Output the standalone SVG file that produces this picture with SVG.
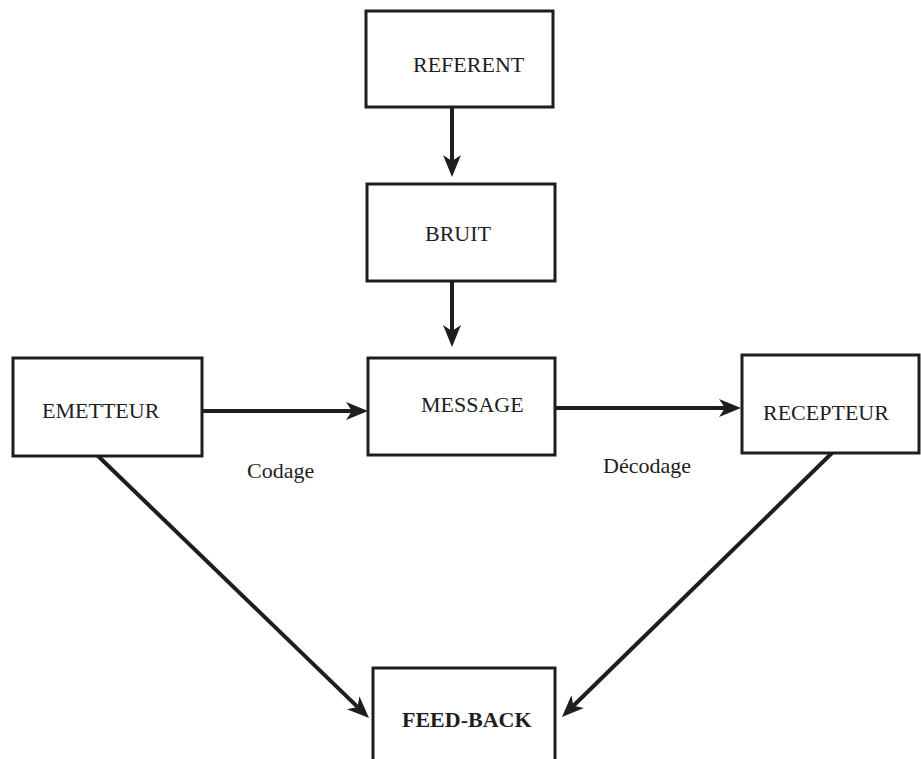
<svg xmlns="http://www.w3.org/2000/svg" width="921" height="759" viewBox="0 0 921 759">
  <style>
    .box { fill: #ffffff; stroke: #1e1e1e; stroke-width: 3; }
    .lbl { font-family: "Liberation Serif", "Times New Roman", serif; font-size: 22px; fill: #1e1e1e; }
    .bold { font-weight: bold; }
    .conn { stroke: #1e1e1e; stroke-width: 4; fill: none; marker-end: url(#arrow); }
  </style>
  <defs>
    <marker id="arrow" markerUnits="userSpaceOnUse" markerWidth="24" markerHeight="20" viewBox="0 -10 24 20" refX="6" refY="0" orient="auto">
      <path d="M22,0 L0,-9 L6,0 L0,9 Z" fill="#1e1e1e"/>
    </marker>
  </defs>
  <rect width="921" height="759" fill="#ffffff"/>

  <g id="connectors">
    <line class="conn" x1="452" y1="107" x2="452" y2="161"/>
    <line class="conn" x1="452" y1="281" x2="452" y2="331"/>
    <line class="conn" x1="202" y1="411" x2="352" y2="411"/>
    <line class="conn" x1="555" y1="408" x2="725" y2="408"/>
    <line class="conn" x1="97" y1="455" x2="357.5" y2="706.9"/>
    <line class="conn" x1="832" y1="453" x2="573.4" y2="705.8"/>
  </g>

  <g id="referent">
    <rect class="box" x="366" y="11" width="187" height="96"/>
    <text class="lbl" x="413" y="72">REFERENT</text>
  </g>
  <g id="bruit">
    <rect class="box" x="367" y="184" width="188" height="97"/>
    <text class="lbl" x="425" y="241">BRUIT</text>
  </g>
  <g id="message">
    <rect class="box" x="368" y="358" width="187" height="97"/>
    <text class="lbl" x="421" y="412">MESSAGE</text>
  </g>
  <g id="emetteur">
    <rect class="box" x="13" y="358" width="189" height="98"/>
    <text class="lbl" x="42" y="418">EMETTEUR</text>
  </g>
  <g id="recepteur">
    <rect class="box" x="742" y="355" width="177" height="98"/>
    <text class="lbl" x="763" y="420">RECEPTEUR</text>
  </g>
  <g id="feedback">
    <rect class="box" x="373" y="668" width="182" height="110"/>
    <text class="lbl bold" x="402" y="727">FEED-BACK</text>
  </g>
  <g id="labels">
    <text class="lbl" x="247" y="478">Codage</text>
    <text class="lbl" x="603" y="473">Décodage</text>
  </g>
</svg>
